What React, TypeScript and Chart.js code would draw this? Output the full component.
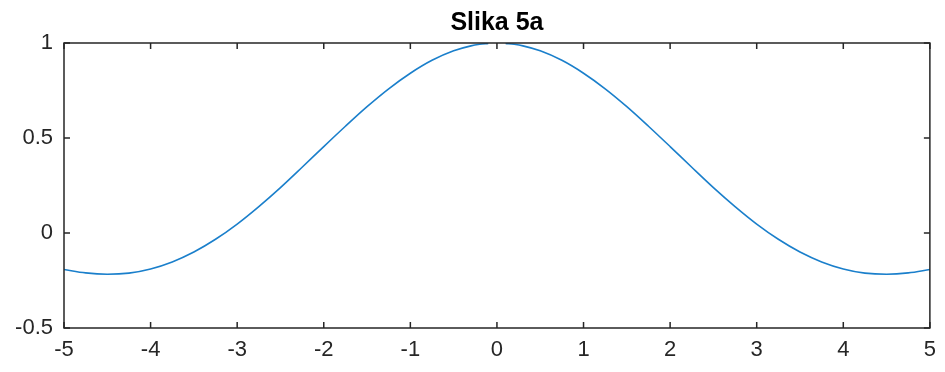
import React, { useEffect, useRef } from "react";
import { Chart, registerables } from "chart.js";

Chart.register(...registerables);

// Sampled curve values (gap at x = 0 where the value is undefined)
const xValues = [
  -5, -4.75, -4.5, -4.25, -4, -3.75, -3.5, -3.25, -3, -2.75, -2.5, -2.25, -2,
  -1.75, -1.5, -1.25, -1, -0.75, -0.5, -0.3, -0.2, -0.1, 0, 0.1, 0.2, 0.3, 0.5,
  0.75, 1, 1.25, 1.5, 1.75, 2, 2.25, 2.5, 2.75, 3, 3.25, 3.5, 3.75, 4, 4.25,
  4.5, 4.75, 5,
];
const yValues: (number | null)[] = [
  -0.192, -0.21, -0.217, -0.211, -0.189, -0.152, -0.1, -0.033, 0.047, 0.139,
  0.239, 0.346, 0.455, 0.562, 0.665, 0.759, 0.841, 0.909, 0.959, 0.985, 0.993,
  0.998, null, 0.998, 0.993, 0.985, 0.959, 0.909, 0.841, 0.759, 0.665, 0.562,
  0.455, 0.346, 0.239, 0.139, 0.047, -0.033, -0.1, -0.152, -0.189, -0.211,
  -0.217, -0.21, -0.192,
];
const xTicks = [-5, -4, -3, -2, -1, 0, 1, 2, 3, 4, 5];
const yTicks = [-0.5, 0, 0.5, 1];
const titleText = "Slika 5a";

const FONT = "'Liberation Sans', Arial, Helvetica, sans-serif";
const AXIS_COLOR = "#262626";

// Draws the boxed axes with inward ticks on all four sides, plus the title.
const boxAxesPlugin = {
  id: "boxAxes",
  afterDraw(chart: any) {
    const { ctx, chartArea } = chart;
    const { left, right, top, bottom } = chartArea;
    const xs = chart.scales.x;
    const ys = chart.scales.y;
    const tick = 6;
    ctx.save();
    ctx.strokeStyle = AXIS_COLOR;
    ctx.lineWidth = 1.5;
    ctx.strokeRect(left, top, right - left, bottom - top);
    ctx.beginPath();
    xTicks.forEach((v) => {
      const px = xs.getPixelForValue(v);
      ctx.moveTo(px, bottom);
      ctx.lineTo(px, bottom - tick);
      ctx.moveTo(px, top);
      ctx.lineTo(px, top + tick);
    });
    yTicks.forEach((v) => {
      const py = ys.getPixelForValue(v);
      ctx.moveTo(left, py);
      ctx.lineTo(left + tick, py);
      ctx.moveTo(right, py);
      ctx.lineTo(right - tick, py);
    });
    ctx.stroke();

    ctx.fillStyle = "#000000";
    ctx.font = `bold 25px ${FONT}`;
    ctx.textAlign = "center";
    ctx.textBaseline = "middle";
    ctx.fillText(titleText, (left + right) / 2, 23);
    ctx.restore();
  },
};

export default function App() {
  const canvasRef = useRef<HTMLCanvasElement | null>(null);

  useEffect(() => {
    document.body.style.margin = "0";
    const canvas = canvasRef.current;
    if (!canvas) return;
    const points = xValues.map((x, i) => ({ x, y: yValues[i] }));
    const chart = new Chart(canvas, {
      type: "line",
      data: {
        datasets: [
          {
            data: points as any,
            borderColor: "#1a7fcb",
            borderWidth: 1.6,
            pointRadius: 0,
            fill: false,
            cubicInterpolationMode: "monotone",
            spanGaps: false,
          },
        ],
      },
      options: {
        animation: false,
        responsive: false,
        devicePixelRatio: 1,
        layout: { padding: { left: 0, right: 15, top: 43, bottom: 0 } },
        plugins: {
          legend: { display: false },
          tooltip: { enabled: false },
          title: { display: false },
        },
        scales: {
          x: {
            type: "linear",
            min: -5,
            max: 5,
            grid: { display: false, drawTicks: false },
            border: { display: false },
            afterBuildTicks: (scale: any) => {
              scale.ticks = xTicks.map((v) => ({ value: v }));
            },
            afterFit: (scale: any) => {
              scale.height = 44;
            },
            ticks: {
              padding: 9,
              color: AXIS_COLOR,
              font: { family: FONT, size: 22 },
              maxRotation: 0,
              autoSkip: false,
              callback: (v: any) => String(v),
            },
          },
          y: {
            type: "linear",
            min: -0.5,
            max: 1,
            grid: { display: false, drawTicks: false },
            border: { display: false },
            afterBuildTicks: (scale: any) => {
              scale.ticks = yTicks.map((v) => ({ value: v }));
            },
            afterFit: (scale: any) => {
              scale.width = 64;
            },
            ticks: {
              padding: 11,
              color: AXIS_COLOR,
              font: { family: FONT, size: 22 },
              autoSkip: false,
              callback: (v: any) => String(v),
            },
          },
        },
      },
      plugins: [boxAxesPlugin],
    });
    return () => chart.destroy();
  }, []);

  return (
    <div style={{ width: 945, height: 372, background: "#ffffff" }}>
      <canvas ref={canvasRef} width={945} height={372} />
    </div>
  );
}
